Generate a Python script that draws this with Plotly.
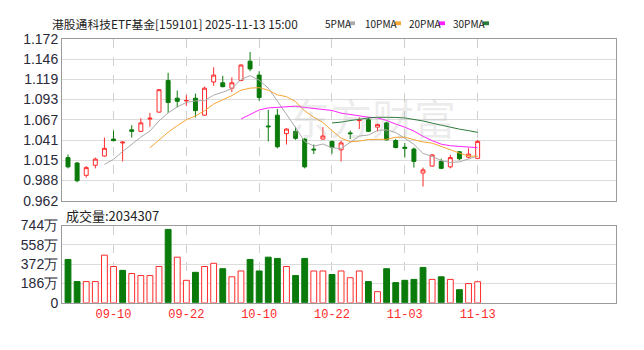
import plotly.graph_objects as go
import pandas as pd
import numpy as np

# ---------------- data ----------------
title_text = "港股通科技ETF基金[159101] 2025-11-13 15:00"
vol_title = "成交量:2034307"

dates = ["09-03", "09-04", "09-05", "09-08", "09-09", "09-10", "09-11", "09-12",
         "09-15", "09-16", "09-17", "09-18", "09-19", "09-22", "09-23", "09-24",
         "09-25", "09-26", "09-29", "09-30", "10-09", "10-10", "10-13", "10-14",
         "10-15", "10-16", "10-17", "10-20", "10-21", "10-22", "10-23", "10-24",
         "10-27", "10-28", "10-29", "10-30", "10-31", "11-03", "11-04", "11-05",
         "11-06", "11-07", "11-10", "11-11", "11-12", "11-13"]

open_p = [1.018, 1.011, 0.995, 1.008, 1.020, 1.042, 1.037, 1.054, 1.052, 1.068,
          1.077, 1.118, 1.095, 1.0915, 1.095, 1.073, 1.116, 1.115, 1.108, 1.118,
          1.143, 1.125, 1.059, 1.073, 1.049, 1.052, 1.042, 1.029, 1.042, 1.039,
          1.028, 1.050, 1.066, 1.067, 1.0575, 1.063, 1.040, 1.0315, 1.029, 0.998,
          1.007, 1.013, 1.006, 1.0255, 1.0185, 1.017]
high_p = [1.022, 1.012, 1.007, 1.018, 1.044, 1.053, 1.039, 1.060, 1.069, 1.076,
          1.107, 1.128, 1.105, 1.099, 1.101, 1.110, 1.135, 1.124, 1.122, 1.139,
          1.155, 1.130, 1.080, 1.081, 1.056, 1.058, 1.043, 1.035, 1.0575, 1.040,
          1.040, 1.053, 1.070, 1.070, 1.062, 1.0645, 1.042, 1.037, 1.031, 1.005,
          1.022, 1.0165, 1.0215, 1.0265, 1.030, 1.041]
low_p = [1.004, 0.986, 0.992, 1.004, 1.019, 1.039, 1.013, 1.044, 1.051, 1.058,
         1.076, 1.076, 1.083, 1.085, 1.070, 1.072, 1.111, 1.109, 1.103, 1.117,
         1.130, 1.092, 1.039, 1.030, 1.035, 1.041, 1.004, 1.0225, 1.041, 1.023,
         1.013, 1.042, 1.055, 1.051, 1.052, 1.040, 1.030, 1.018, 1.005, 0.9805,
         1.006, 1.003, 1.004, 1.0145, 1.017, 1.016]
close_p = [1.006, 0.988, 1.005, 1.016, 1.030, 1.040, 1.038, 1.052, 1.063, 1.069,
           1.106, 1.0895, 1.091, 1.092, 1.079, 1.108, 1.125, 1.110, 1.115, 1.138,
           1.133, 1.096, 1.058, 1.032, 1.055, 1.043, 1.006, 1.028, 1.046, 1.031,
           1.037, 1.049, 1.067, 1.052, 1.061, 1.041, 1.031, 1.030, 1.013, 1.002,
           1.0215, 1.004, 1.018, 1.0165, 1.0225, 1.039]
prev_close_before = 1.015

# volume in 万
volume = [418, 205, 205, 205, 459, 350, 313, 282, 263, 263,
          350, 707, 440, 217, 294, 350, 381, 329, 251, 307,
          418, 307, 440, 428, 350, 263, 428, 307, 307, 273,
          307, 242, 307, 205, 108, 329, 195, 217, 226, 341,
          226, 251, 226, 127, 186, 203.4]

price_low, price_high = 0.962, 1.172
price_ticks = ["0.962", "0.988", "1.015", "1.041", "1.067", "1.093", "1.119", "1.146", "1.172"]
vol_tickvals = [0, 186, 372, 558, 744]
vol_ticks = ["0", "186万", "372万", "558万", "744万"]
tick_dates = ["09-10", "09-22", "10-10", "10-22", "11-03", "11-13"]

ma_periods = [5, 10, 20, 30]
ma_names = ["5PMA", "10PMA", "20PMA", "30PMA"]
ma_colors = ["#aaaaaa", "#f7a535", "#ff22ff", "#2a7a3a"]

# ---------------- styling ----------------
RED = "#ff2a2a"
GREEN = "#0a7a0a"
W, H = 644, 350
px_left, px_right = 62, 616
top_y0, top_y1 = 32.3, 202.0
vol_y0, vol_y1 = 228.0, 309.0

def xp(px):
    return px / W

def yp(py):
    return 1 - py / H

idx = list(range(len(dates)))
tick_idx = [dates.index(d) for d in tick_dates]

closes = pd.Series(close_p)
prev = [prev_close_before] + close_p[:-1]
vol_up = [c >= p for c, p in zip(close_p, prev)]

fig = go.Figure()

fig.add_trace(go.Candlestick(
    x=idx, open=open_p, high=high_p, low=low_p, close=close_p,
    xaxis="x", yaxis="y",
    increasing=dict(line=dict(color=RED, width=1), fillcolor="white"),
    decreasing=dict(line=dict(color=GREEN, width=1), fillcolor=GREEN),
    whiskerwidth=0, showlegend=False, hoverinfo="skip"))

for n, name, col in zip(ma_periods, ma_names, ma_colors):
    ma = closes.rolling(n).mean()
    fig.add_trace(go.Scatter(x=idx, y=ma, mode="lines", name=name,
                             line=dict(color=col, width=1),
                             xaxis="x", yaxis="y", showlegend=False,
                             hoverinfo="skip"))

fig.add_trace(go.Bar(
    x=idx, y=volume, xaxis="x2", yaxis="y2",
    marker=dict(color=["white" if u else GREEN for u in vol_up],
                line=dict(color=[RED if u else GREEN for u in vol_up], width=1)),
    showlegend=False, hoverinfo="skip"))

xrange = [-0.66, 60.2]
axis_common = dict(showline=True, mirror=True, linecolor="#9a9a9a", linewidth=1,
                   zeroline=False, ticks="")

fig.update_layout(
    width=W, height=H,
    margin=dict(l=0, r=0, t=0, b=0),
    paper_bgcolor="white", plot_bgcolor="white",
    boxgap=0.38, bargap=0.36,
    xaxis=dict(domain=[xp(px_left), xp(px_right)], range=xrange, anchor="y",
               tickvals=tick_idx, showticklabels=False,
               showgrid=True, gridcolor="#cfcfcf", griddash="dash", gridwidth=1,
               rangeslider=dict(visible=False), **axis_common),
    yaxis=dict(domain=[yp(top_y1), yp(top_y0)], range=[price_low, price_high],
               anchor="x",
               tickvals=list(np.linspace(price_low, price_high, len(price_ticks))),
               ticktext=price_ticks,
               tickfont=dict(family="Liberation Sans", size=14, color="#2a2a3a"),
               showgrid=True, gridcolor="#dcdcdc", gridwidth=1, **axis_common),
    xaxis2=dict(domain=[xp(px_left), xp(px_right)], range=xrange, anchor="y2",
                tickvals=tick_idx, ticktext=tick_dates,
                tickfont=dict(family="Liberation Mono", size=12, color=RED),
                showgrid=True, gridcolor="#cfcfcf", griddash="dash", gridwidth=1,
                **axis_common),
    yaxis2=dict(domain=[yp(vol_y1), yp(vol_y0)], range=[0, 744], anchor="x2",
                tickvals=vol_tickvals, ticktext=vol_ticks,
                tickfont=dict(family="Liberation Sans", size=14, color="#2a2a3a"),
                showgrid=True, gridcolor="#dcdcdc", gridwidth=1, **axis_common),
)

annotations = [
    dict(text=title_text, x=xp(50), y=yp(16), xref="paper", yref="paper",
         xanchor="left", yanchor="middle", showarrow=False,
         font=dict(family="Noto Sans CJK SC", size=11.8, color="#222")),
    dict(text=vol_title, x=xp(64), y=yp(217), xref="paper", yref="paper",
         xanchor="left", yanchor="middle", showarrow=False,
         font=dict(family="Noto Sans CJK SC", size=13, color="#222")),
    dict(text="东方财富", x=xp(372), y=yp(114), xref="paper", yref="paper",
         xanchor="center", yanchor="middle", showarrow=False,
         font=dict(family="Noto Sans CJK SC", size=42, color="rgba(170,170,170,0.22)")),
]
legend_text_x = [323, 363, 407, 451]
legend_mark_x = [349, 395, 439, 483]
shapes = []
for name, col, tx, mx in zip(ma_names, ma_colors, legend_text_x, legend_mark_x):
    annotations.append(dict(text=name, x=xp(tx), y=yp(16), xref="paper", yref="paper",
                            xanchor="left", yanchor="middle", showarrow=False,
                            font=dict(family="Noto Sans CJK SC", size=10, color="#222")))
    shapes.append(dict(type="rect", xref="paper", yref="paper", layer="above",
                       x0=xp(mx), x1=xp(mx + 6), y0=yp(18), y1=yp(14),
                       fillcolor=col, line=dict(width=0)))

fig.update_layout(annotations=annotations, shapes=shapes)

fig.write_html("out.html")
